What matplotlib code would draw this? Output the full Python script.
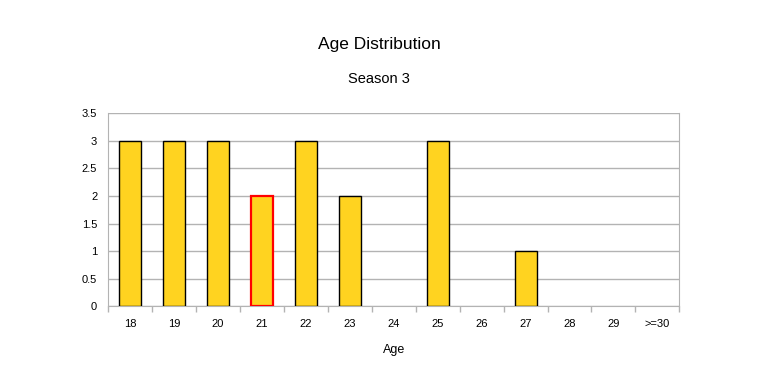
import matplotlib.pyplot as plt
import numpy as np

plt.rcParams['font.family'] = ['Liberation Sans', 'DejaVu Sans']

# data
ages = ['18', '19', '20', '21', '22', '23', '24', '25', '26', '27', '28', '29', '>=30']
counts = [3, 3, 3, 2, 3, 2, 0, 3, 0, 1, 0, 0, 0]
highlight = '21'

fig = plt.figure(figsize=(7.81, 3.74), dpi=100)
ax = fig.add_axes([108.3 / 781, 1 - 306.3 / 374, 571 / 781, 193 / 374])

x = np.arange(len(ages))
edges = ['red' if a == highlight else 'black' for a in ages]
# empty categories get no outline
lws = [0 if c == 0 else (1.6 if a == highlight else 1.0) for a, c in zip(ages, counts)]
ax.bar(x, counts, width=0.5, color='#ffd320', edgecolor=edges, linewidth=lws, zorder=3)

ax.set_xlim(-0.5, len(ages) - 0.5)
ax.set_ylim(0, 3.5)
ax.set_yticks(np.arange(0, 3.51, 0.5))
ax.set_yticklabels(['0', '0.5', '1', '1.5', '2', '2.5', '3', '3.5'], fontsize=8)
ax.yaxis.grid(True, color='#b3b3b3', linewidth=1, zorder=0)
ax.tick_params(axis='y', length=0, pad=8)

# category ticks sit between bars
ax.set_xticks(x)
ax.set_xticklabels(ages, fontsize=8)
ax.tick_params(axis='x', length=0, pad=9)
ax.set_xticks(np.arange(-0.5, len(ages), 1), minor=True)
ax.tick_params(axis='x', which='minor', length=4, color='#b3b3b3', width=1)

for s in ['left', 'right', 'bottom']:
    ax.spines[s].set_color('#b3b3b3')
ax.spines['top'].set_visible(False)

ax.set_xlabel('Age', fontsize=9, labelpad=11)

fig.text(379 / 781, 1 - 44 / 374, 'Age Distribution', ha='center', va='center', fontsize=12.5)
fig.text(379 / 781, 1 - 79 / 374, 'Season 3', ha='center', va='center', fontsize=10.5)

fig.savefig('out.png', dpi=100)
